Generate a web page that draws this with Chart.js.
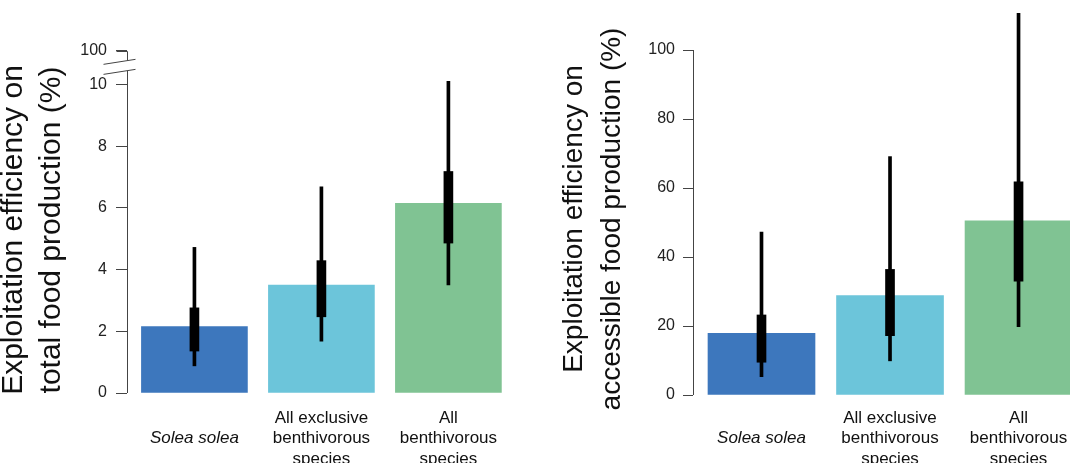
<!DOCTYPE html>
<html>
<head>
<meta charset="utf-8">
<title>Exploitation efficiency</title>
<script src="https://cdn.jsdelivr.net/npm/chart.js@4.4.1/dist/chart.umd.min.js"></script>
<style>
  html, body { margin: 0; padding: 0; background: #fff; overflow: hidden; }
  #wrap { position: relative; width: 1070px; height: 463px; overflow: hidden; }
  .panel { position: absolute; top: 0; height: 463px; }
</style>
</head>
<body>
<div id="wrap">
  <div class="panel" style="left:0;width:535px"><canvas id="totalChart" width="535" height="463"></canvas></div>
  <div class="panel" style="left:535px;width:560px"><canvas id="accessChart" width="560" height="463"></canvas></div>
</div>
<script>
// categories (Solea solea sits on the second line, like the other labels' middle line)
const categories = [['', 'Solea solea'], ['All exclusive', 'benthivorous', 'species'], ['All', 'benthivorous', 'species']];
const barColors = ['#3d77bd', '#6cc5da', '#80c393'];

// left panel: efficiency on total food production (%)
const totalBars = [2.15, 3.5, 6.15];
const totalWhisker = [[0.88, 4.72], [1.68, 6.68], [3.5, 10.1]];
const totalBox = [[1.36, 2.76], [2.47, 4.29], [4.86, 7.18]];
const totalTicks = [0, 2, 4, 6, 8, 10];

// right panel: efficiency on accessible food production (%)
const accessBars = [17.9, 28.8, 50.5];
const accessWhisker = [[5.3, 47.2], [9.9, 69.1], [19.8, 110.6]];
const accessBox = [[9.5, 23.2], [17.2, 36.4], [33.0, 61.8]];
const accessTicks = [0, 20, 40, 60, 80, 100];

Chart.defaults.font.family = '"Liberation Sans", Arial, Helvetica, sans-serif';
Chart.defaults.color = '#111';

const toXY = vals => vals.map((v, i) => ({ x: i, y: v }));

// R style axis: line only between the end ticks, optional broken top
const rAxis = {
  id: 'rAxis',
  afterDraw(chart, args, o) {
    const ys = chart.scales.y;
    const ctx = chart.ctx;
    const x = Math.round(chart.chartArea.left) + 0.5;
    const line = (x1, y1, x2, y2) => { ctx.beginPath(); ctx.moveTo(x1, y1); ctx.lineTo(x2, y2); ctx.stroke(); };
    ctx.save();
    ctx.strokeStyle = '#444';
    ctx.lineWidth = 1;
    line(x, ys.getPixelForValue(o.from), x, ys.getPixelForValue(o.to));
    if (o.brk) {
      const yLo = ys.getPixelForValue(o.brk.lo);
      const yHi = ys.getPixelForValue(o.brk.hi);
      const yT = Math.round(ys.getPixelForValue(o.brk.tick)) + 0.5;
      line(x, yHi, x, yT);
      line(x - o.tickLen, yT, x, yT);
      [yLo, yHi].forEach(yy => line(x - 24, yy + 3.75, x + 8, yy - 1.25));
    }
    ctx.restore();
  }
};

// two-line rotated axis title, centred on the plot area
const yTitle = {
  id: 'yTitle',
  afterDraw(chart, args, o) {
    const { ctx, chartArea } = chart;
    ctx.save();
    ctx.translate(o.x, (chartArea.top + chartArea.bottom) / 2);
    ctx.rotate(-Math.PI / 2);
    ctx.font = o.size + 'px "Liberation Sans", Arial, Helvetica, sans-serif';
    ctx.fillStyle = '#111';
    ctx.textAlign = 'center';
    ctx.textBaseline = 'middle';
    o.lines.forEach((t, i) => ctx.fillText(t, 0, i * o.gap));
    ctx.restore();
  }
};

function makeChart(id, o) {
  return new Chart(document.getElementById(id), {
    type: 'bar',
    data: {
      datasets: [
        { data: toXY(o.bars), backgroundColor: barColors, borderWidth: 0, barThickness: o.barW, grouped: false, order: 3 },
        { data: toXY(o.whisker), backgroundColor: '#000', borderWidth: 0, barThickness: 3, grouped: false, order: 2, clip: false },
        { data: toXY(o.box), backgroundColor: '#000', borderWidth: 0, barThickness: 9, grouped: false, order: 1, clip: false }
      ]
    },
    options: {
      responsive: false,
      animation: false,
      layout: { padding: { top: o.top, left: 0, right: 0, bottom: 0 } },
      plugins: {
        legend: { display: false },
        tooltip: { enabled: false },
        rAxis: { from: 0, to: o.axisTo, brk: o.brk, tickLen: o.tickLen },
        yTitle: { lines: o.title, size: o.titleSize, x: o.titleX, gap: 38 }
      },
      scales: {
        x: {
          type: 'linear', offset: false, min: o.xMin, max: o.xMax,
          grid: { display: false, drawTicks: false },
          border: { display: false },
          afterBuildTicks: s => { s.ticks = categories.map((c, i) => ({ value: i })); },
          afterFit: s => { s.height = o.xHeight; },
          ticks: {
            autoSkip: false, maxRotation: 0, minRotation: 0, padding: o.xPad, color: '#111',
            font: c => ({ size: 17, lineHeight: 1.2, style: c.index === 0 ? 'italic' : 'normal' }),
            callback: (v, i) => categories[i]
          }
        },
        y: {
          min: 0, max: o.yMax,
          afterBuildTicks: s => { s.ticks = o.ticks.map(v => ({ value: v })); },
          afterFit: s => { s.width = o.yWidth; },
          grid: { drawOnChartArea: false, drawTicks: true, tickLength: o.tickLen, color: '#444', lineWidth: 1 },
          border: { display: false },
          ticks: {
            autoSkip: false, padding: o.tickPad, color: '#222', font: { size: 16 },
            callback: v => (o.brk && v === o.brk.tick) ? '100' : v
          }
        }
      }
    },
    plugins: [rAxis, yTitle]
  });
}

const totalBreak = { lo: 10.45, hi: 10.775, tick: 11.096 };

makeChart('totalChart', {
  bars: totalBars, whisker: totalWhisker, box: totalBox,
  ticks: [...totalTicks, totalBreak.tick], brk: totalBreak, axisTo: totalBreak.lo,
  yMax: 10.567, top: 67, xHeight: 70, xPad: 15,
  xMin: -0.531, xMax: 2.682, yWidth: 127, barW: 106,
  tickLen: 11, tickPad: 9,
  title: ['Exploitation efficiency on', 'total food production (%)'], titleSize: 30, titleX: 14
});

makeChart('accessChart', {
  bars: accessBars, whisker: accessWhisker, box: accessBox,
  ticks: accessTicks, brk: null, axisTo: 100,
  yMax: 102.03, top: 43, xHeight: 68, xPad: 13,
  xMin: -0.533, xMax: 2.595, yWidth: 158, barW: 107,
  tickLen: 10, tickPad: 8,
  title: ['Exploitation efficiency on', 'accessible food production (%)'], titleSize: 28, titleX: 39
});
</script>
</body>
</html>
